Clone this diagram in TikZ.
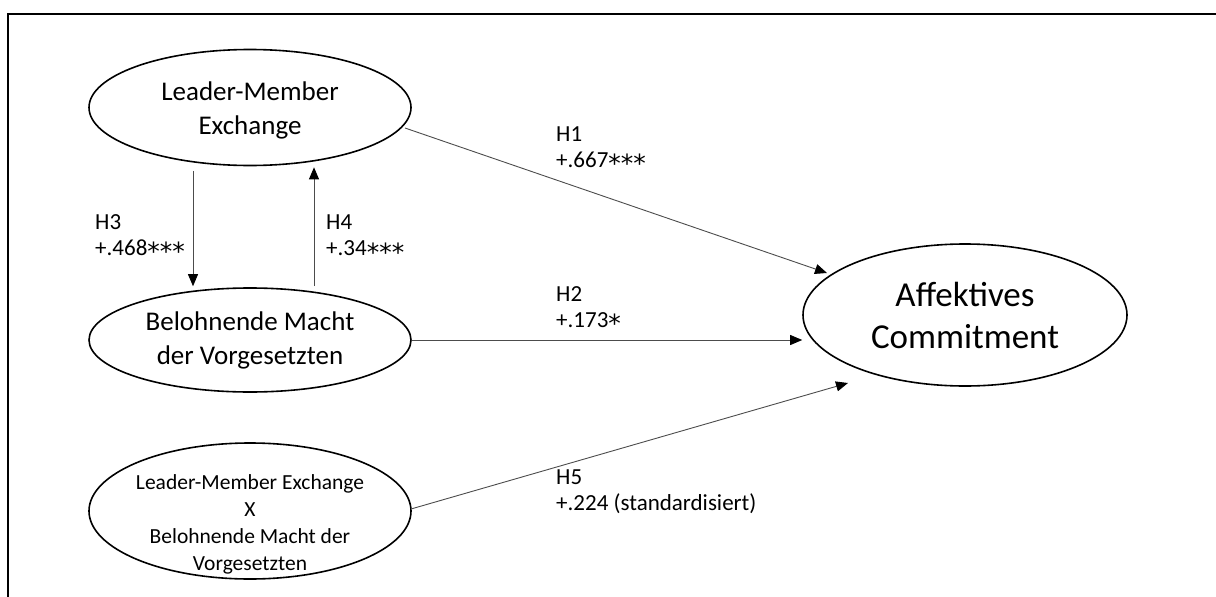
\documentclass[tikz,border=0pt]{standalone}
\usepackage{fontspec}
\setmainfont{Carlito}
\newfontfamily\starfont{DejaVu Sans}
\newcommand\stars[1]{{\fontsize{25}{26}\starfont\raisebox{-5.5pt}{#1}}}
\usetikzlibrary{shapes.geometric,arrows.meta}
\begin{document}
\begin{tikzpicture}[x=1pt,y=1pt,
  oval/.style={draw=black, line width=1.6pt, ellipse, inner sep=0pt, align=center},
  conn/.style={draw=black!70, line width=0.9pt, -{Triangle[length=12pt,width=10pt,color=black]}},
  lbl/.style={anchor=north west, inner sep=0pt, align=left, font={\fontsize{23}{26}\selectfont}},
  ovallbl/.style={inner sep=0pt, align=center},
  intlbl/.style={ovallbl, yshift=-13pt, font={\fontsize{21.5}{27}\selectfont}}]
\useasboundingbox (0,0) rectangle (1216,-597);
\draw[line width=2pt] (1216,-14) -- (8,-14) -- (8,-597);

\node[oval, minimum width=322pt, minimum height=116pt,
  label={[ovallbl, yshift=-3pt, font={\fontsize{27}{34}\selectfont}]center:{Leader-Member\\Exchange}}] (lmx) at (250,-107.5) {};
\node[oval, minimum width=322pt, minimum height=104pt, font={\fontsize{27}{34}\selectfont}] (bmv) at (250,-340) {Belohnende Macht\\der Vorgesetzten};
\node[oval, minimum width=322pt, minimum height=136pt,
  label={[intlbl]center:{Leader-Member Exchange\\X\\Belohnende Macht der\\Vorgesetzten}}] (int) at (250,-511) {};
\node[oval, minimum width=324pt, minimum height=142pt, font={\fontsize{35}{42}\selectfont}] (ac) at (965,-315) {Affektives\\Commitment};

\draw[conn] ([shift={(155,-20.5)}]lmx.center) -- ([shift={(-138,42)}]ac.center);
\draw[conn] (bmv.east) -- (bmv.east -| ac.west);
\draw[conn] ([shift={(161,2)}]int.center) -- ([shift={(-117,-68)}]ac.center);
\draw[conn] ([shift={(-57,-4.5)}]lmx.south) -- ([shift={(-57,1)}]bmv.north);
\draw[conn] ([shift={(64,1)}]bmv.north) -- ([shift={(64,-1)}]lmx.south);

\node[lbl] (l1) at (556,-126) {H1\\+.667\stars{***}};
\node[lbl] (l2) at (556,-286) {H2\\+.173\stars{*}};
\node[lbl] (l5) at (556,-470) {H5\\+.224 (standardisiert)};
\node[lbl] (l3) at (95,-214) {H3\\+.468\stars{***}};
\node[lbl] (l4) at (326,-215) {H4\\+.34\stars{***}};
\end{tikzpicture}
\end{document}
